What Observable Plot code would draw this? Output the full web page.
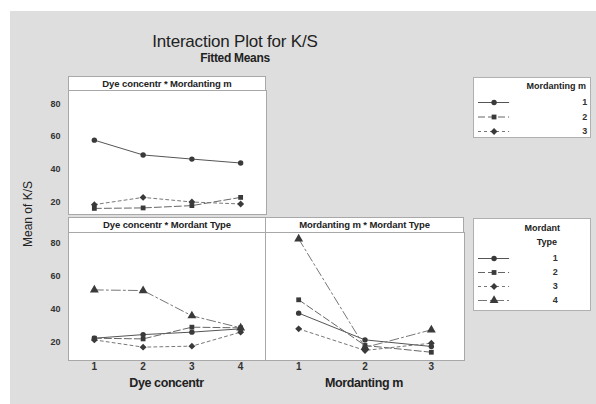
<!DOCTYPE html>
<html><head><meta charset="utf-8">
<script src="https://cdn.jsdelivr.net/npm/d3@7"></script>
<script src="https://cdn.jsdelivr.net/npm/@observablehq/plot@0.6"></script>
<style>
body{margin:0;background:#fff;}
#root{position:relative;width:596px;height:404px;overflow:hidden;font-family:"Liberation Sans",Arial,sans-serif;color:#222;}
#bg{position:absolute;left:10px;top:11px;width:586px;height:393px;background:#dedede;}
.abs{position:absolute;}
.hdr{position:absolute;background:#fff;border:1px solid #a8a8a8;box-sizing:border-box;font:bold 9.5px "Liberation Sans",Arial,sans-serif;text-align:center;line-height:13px;color:#222;letter-spacing:-0.1px;}
.lgd{position:absolute;background:#fff;border:1px solid #b0b0b0;box-sizing:border-box;}
svg{overflow:visible;}
</style></head>
<body>
<div id="root">
  <div id="bg"></div>
  <div class="abs" style="left:60px;width:350px;top:32px;text-align:center;font:17px 'Liberation Sans',Arial,sans-serif;letter-spacing:-0.2px;">Interaction Plot for K/S</div>
  <div class="abs" style="left:60px;width:350px;top:51px;text-align:center;font:bold 12px 'Liberation Sans',Arial,sans-serif;letter-spacing:-0.3px;">Fitted Means</div>
  <div class="abs" style="left:-22px;top:207px;width:100px;text-align:center;transform:rotate(-90deg);font:12px 'Liberation Sans',Arial,sans-serif;">Mean of K/S</div>
  <div class="abs" style="left:68px;width:197px;top:376px;text-align:center;font:bold 12.5px 'Liberation Sans',Arial,sans-serif;letter-spacing:-0.4px;">Dye concentr</div>
  <div class="abs" style="left:265px;width:198px;top:376px;text-align:center;font:bold 12.5px 'Liberation Sans',Arial,sans-serif;letter-spacing:-0.4px;">Mordanting m</div>
  <div class="hdr" style="left:68px;top:76px;width:198px;height:15px;">Dye concentr * Mordanting m</div>
  <div class="hdr" style="left:68px;top:217px;width:198px;height:16px;line-height:14px;">Dye concentr * Mordant Type</div>
  <div class="hdr" style="left:265px;top:217px;width:199px;height:16px;line-height:14px;">Mordanting m * Mordant Type</div>
  <div id="p1" class="abs"></div>
  <div id="p2" class="abs"></div>
  <div id="p3" class="abs"></div>
  <div id="l1" class="lgd" style="left:473px;top:77px;width:118px;height:61px;"></div>
  <div id="l2" class="lgd" style="left:473px;top:218px;width:118px;height:93px;"></div>
</div>
<script>
// ---- data ----
const dyeLevels = [1, 2, 3, 4];
const mordantingLevels = [1, 2, 3];
const mordantingNames = ["1", "2", "3"];
const typeNames = ["1", "2", "3", "4"];
const yTicks = [20, 40, 60, 80];

// Dye concentr * Mordanting m (series = Mordanting m 1..3)
const dyeByMordanting1 = [57.8, 48.8, 46.3, 43.9];
const dyeByMordanting2 = [16.3, 16.6, 18.0, 23.0];
const dyeByMordanting3 = [18.6, 23.0, 20.2, 19.0];

// Dye concentr * Mordant Type (series = Mordant Type 1..4)
const dyeByType1 = [22.6, 24.8, 26.3, 28.3];
const dyeByType2 = [22.6, 22.2, 29.3, 28.9];
const dyeByType3 = [21.6, 17.2, 17.8, 26.3];
const dyeByType4 = [51.9, 51.5, 36.2, 28.9];

// Mordanting m * Mordant Type (series = Mordant Type 1..4)
const mordByType1 = [37.8, 21.6, 17.6];
const mordByType2 = [45.9, 18.2, 14.1];
const mordByType3 = [28.3, 15.2, 19.6];
const mordByType4 = [82.8, 17.0, 27.7];

// ---- styles ----
const styles = [
  {symbol: "circle", dash: null, stroke: "#555"},
  {symbol: "square", dash: "7,3", stroke: "#666"},
  {symbol: "diamond2", dash: "3,3", stroke: "#777"},
  {symbol: "triangle", dash: "9,3,2,3", stroke: "#777"}
];
const font = "'Liberation Sans',Arial,sans-serif";
const symR = s => s === "triangle" ? 3.3 : s === "diamond2" ? 3.1 : 2.7;

function seriesMarks(xs, list) {
  const marks = [];
  list.forEach((vals, i) => {
    const st = styles[i];
    const rows = xs.map((x, j) => ({x, y: vals[j]}));
    marks.push(Plot.line(rows, {x: "x", y: "y", stroke: st.stroke, strokeWidth: 1, strokeDasharray: st.dash}));
    marks.push(Plot.dot(rows, {x: "x", y: "y", symbol: st.symbol, r: symR(st.symbol), fill: "#3a3a3a", stroke: "none"}));
  });
  return marks;
}

function panel(el, {xs, xDomain, yDomain, list, left, top, w, h, showY, showX}) {
  const ml = 40;
  const mb = 18;
  const chart = Plot.plot({
    width: w + ml, height: h + mb,
    marginLeft: ml, marginRight: 0, marginTop: 0, marginBottom: mb,
    x: {domain: xDomain, axis: null},
    y: {domain: yDomain, axis: null},
    style: {background: "transparent", fontFamily: font, color: "#333", overflow: "visible"},
    marks: [
      Plot.frame({fill: "#fff", stroke: "#a8a8a8"}),
      ...(showY ? [Plot.text(yTicks, {y: d => d, x: () => xDomain[0], dx: -8, textAnchor: "end", fontSize: 9, fontWeight: "bold", fill: "#333"})] : []),
      ...(showX ? [Plot.text(xs, {x: d => d, frameAnchor: "bottom", dy: 9, fontSize: 10, fontWeight: "bold", fill: "#333", text: d => String(d)})] : []),
      ...seriesMarks(xs, list)
    ]
  });
  chart.style.display = "block";
  el.style.left = (left - ml) + "px";
  el.style.top = top + "px";
  el.appendChild(chart);
}

panel(document.getElementById("p1"), {
  xs: dyeLevels, xDomain: [0.47, 4.53], yDomain: [12.6, 88],
  list: [dyeByMordanting1, dyeByMordanting2, dyeByMordanting3],
  left: 68, top: 90, w: 198, h: 124, showY: true, showX: false
});
panel(document.getElementById("p2"), {
  xs: dyeLevels, xDomain: [0.47, 4.53], yDomain: [9.1, 86.7],
  list: [dyeByType1, dyeByType2, dyeByType3, dyeByType4],
  left: 68, top: 232, w: 198, h: 128, showY: true, showX: true
});
panel(document.getElementById("p3"), {
  xs: mordantingLevels, xDomain: [0.5, 3.5], yDomain: [9.1, 86.7],
  list: [mordByType1, mordByType2, mordByType3, mordByType4],
  left: 265, top: 232, w: 199, h: 128, showY: false, showX: true
});

// legends (built from the category names)
function buildLegend(el, names, topPad, lineGap, labelX, titleParts) {
  const items = names.map((name, i) => ({name, i}));
  const marks = [];
  items.forEach(d => {
    const st = styles[d.i];
    marks.push(Plot.ruleY([d], {y: "i", x1: 0, x2: 1, stroke: st.stroke, strokeWidth: 1, strokeDasharray: st.dash}));
    marks.push(Plot.dot([d], {y: "i", x: 0.5, symbol: st.symbol, r: symR(st.symbol), fill: "#3a3a3a", stroke: "none"}));
  });
  marks.push(Plot.text(items, {y: "i", x: labelX, text: "name", textAnchor: "end", fontSize: 9, fontWeight: "bold", fill: "#333"}));
  const n = names.length;
  const h = topPad + (n - 1) * lineGap + 12;
  const chart = Plot.plot({
    width: 116, height: h,
    marginLeft: 4, marginRight: 0, marginTop: topPad, marginBottom: 12,
    x: {domain: [0, 3.6], range: [4, 116], axis: null},
    y: {domain: [0, n - 1], axis: null, reverse: true},
    style: {background: "transparent", fontFamily: font, overflow: "visible"},
    marks
  });
  el.appendChild(chart);
  titleParts.forEach(p => {
    const t = document.createElement("div");
    t.textContent = p.text;
    t.style.cssText = `position:absolute;right:${p.right}px;top:${p.top}px;font:bold 9px ${font};color:#222;`;
    el.appendChild(t);
  });
}
buildLegend(document.getElementById("l1"), mordantingNames, 24, 14.5, 3.5,
  [{text: "Mordanting m", right: 4, top: 3}]);
buildLegend(document.getElementById("l2"), typeNames, 39, 14, 2.55,
  [{text: "Mordant", right: 30, top: 4}, {text: "Type", right: 33, top: 18}]);
</script>
</body></html>
